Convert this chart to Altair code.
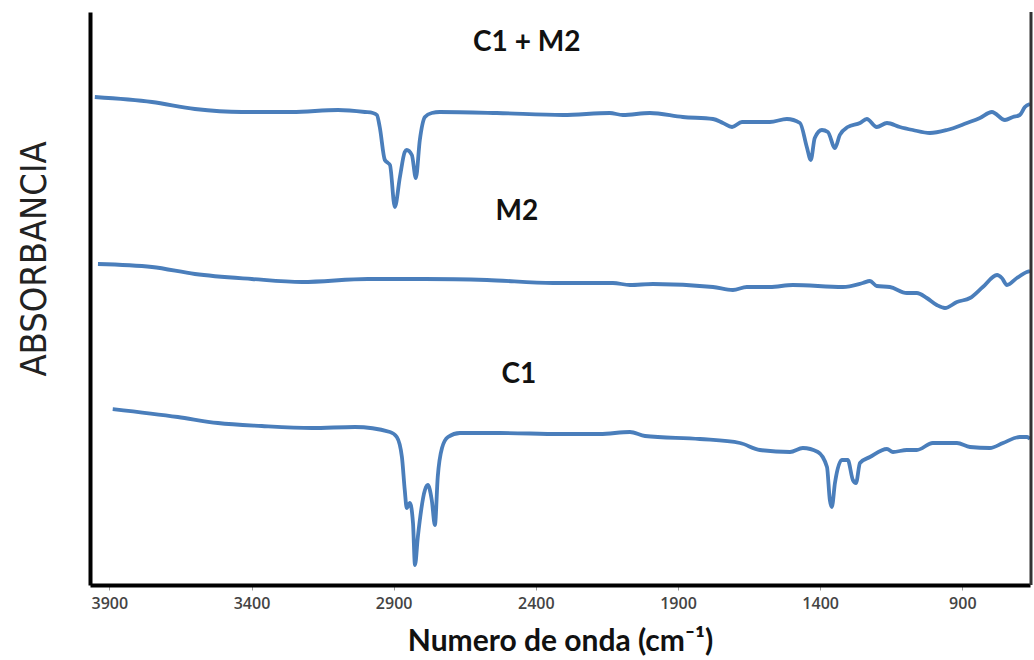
import altair as alt
import pandas as pd

# Wavenumber (cm-1) and relative absorbance
c1m2_wn = [3951, 3750, 3599, 3434, 3258, 3096, 3001, 2973, 2959, 2949, 2931, 2920, 2913,
           2896, 2878, 2861, 2854, 2836, 2822, 2808, 2790, 2766, 2738, 2537, 2305, 2140,
           2094, 1999, 1883, 1777, 1742, 1710, 1675, 1577, 1517, 1471, 1447, 1433, 1419,
           1394, 1373, 1348, 1331, 1303, 1260, 1236, 1201, 1165, 1120, 1074, 1014, 954,
           884, 838, 796, 750, 722, 698, 680, 662]
c1m2_abs = [4.88, 4.83, 4.76, 4.73, 4.73, 4.75, 4.73, 4.72, 4.70, 4.58, 4.25, 4.22, 4.20,
            3.78, 4.08, 4.33, 4.35, 4.30, 4.07, 4.45, 4.68, 4.72, 4.73, 4.72, 4.70, 4.72,
            4.70, 4.72, 4.68, 4.66, 4.62, 4.58, 4.63, 4.63, 4.66, 4.62, 4.38, 4.25, 4.47,
            4.55, 4.53, 4.37, 4.50, 4.58, 4.62, 4.66, 4.58, 4.62, 4.58, 4.55, 4.52, 4.55,
            4.62, 4.67, 4.73, 4.65, 4.68, 4.70, 4.78, 4.81]

m2_wn = [3940, 3750, 3599, 3399, 3223, 2991, 2790, 2572, 2340, 2129, 2069, 1988, 1777,
         1707, 1658, 1577, 1496, 1320, 1250, 1225, 1201, 1155, 1095, 1060, 1025, 990,
         961, 919, 873, 828, 778, 761, 743, 708, 673, 662]
m2_abs = [3.21, 3.18, 3.11, 3.06, 3.03, 3.06, 3.06, 3.05, 3.02, 3.02, 3.00, 3.01, 2.98,
          2.95, 2.98, 2.98, 3.00, 2.98, 3.02, 3.04, 2.99, 2.98, 2.92, 2.92, 2.87, 2.80,
          2.77, 2.83, 2.87, 2.98, 3.10, 3.07, 3.00, 3.07, 3.13, 3.14]

c1_wn = [3888, 3659, 3518, 3364, 3188, 3036, 2913, 2889, 2871, 2861, 2854, 2843, 2832,
         2825, 2815, 2790, 2780, 2766, 2755, 2745, 2730, 2709, 2667, 2526, 2315, 2175,
         2069, 2016, 1823, 1682, 1612, 1506, 1461, 1408, 1376, 1366, 1359, 1348, 1324,
         1303, 1285, 1274, 1260, 1225, 1165, 1144, 1095, 1060, 1004, 919, 873, 803, 757,
         698, 673, 662]
c1_abs = [1.76, 1.68, 1.62, 1.59, 1.57, 1.58, 1.53, 1.48, 1.28, 0.95, 0.77, 0.82, 0.62,
          0.20, 0.48, 0.95, 1.00, 0.85, 0.60, 1.08, 1.37, 1.48, 1.52, 1.52, 1.51, 1.51,
          1.53, 1.49, 1.46, 1.42, 1.35, 1.33, 1.37, 1.33, 1.18, 0.85, 0.78, 1.02, 1.25,
          1.25, 1.05, 1.02, 1.22, 1.28, 1.36, 1.33, 1.35, 1.35, 1.42, 1.42, 1.38, 1.37,
          1.42, 1.48, 1.48, 1.46]

label_text = ["C1 + M2", "M2", "C1"]
label_wn = [2432, 2467, 2460]
label_abs = [5.42, 3.73, 2.10]

tick_values = [3900, 3400, 2900, 2400, 1900, 1400, 900]

rows = []
for name, wn, ab in [("C1 + M2", c1m2_wn, c1m2_abs), ("M2", m2_wn, m2_abs), ("C1", c1_wn, c1_abs)]:
    for w, a in zip(wn, ab):
        rows.append({"serie": name, "wn": w, "abs": a})
df = pd.DataFrame(rows)
df_lab = pd.DataFrame({"t": label_text, "wn": label_wn, "abs": label_abs})

xscale = alt.Scale(domain=[3968, 662], nice=False, zero=False)
yscale = alt.Scale(domain=[0, 5.73], nice=False, zero=False)

lines = alt.Chart(df).mark_line(color="#4a7ebb", strokeWidth=3.8, clip=True,
                                interpolate="monotone").encode(
    x=alt.X("wn:Q", scale=xscale,
            axis=alt.Axis(values=tick_values, format="d", grid=False,
                          domainColor="black", domainWidth=4,
                          tickColor="#999999", tickSize=5, tickWidth=1,
                          labelFont="Open Sans", labelFontSize=16, labelColor="#444444",
                          labelFontWeight=600, labelPadding=5,
                          title="Numero de onda (cm⁻¹)", titleFont="Lato",
                          titleFontSize=30, titleFontWeight="bold", titleColor="#111111",
                          titlePadding=15)),
    y=alt.Y("abs:Q", scale=yscale,
            axis=alt.Axis(labels=False, ticks=False, title=None, grid=False,
                          domainColor="black", domainWidth=4)),
    detail="serie:N",
)

labels = alt.Chart(df_lab).mark_text(font="Lato", fontSize=28, fontWeight="bold",
                                     color="#111111").encode(
    x=alt.X("wn:Q", scale=xscale), y=alt.Y("abs:Q", scale=yscale), text="t:N")

ytitle = alt.Chart(pd.DataFrame({"t": ["ABSORBANCIA"]})).mark_text(
    font="DejaVu Sans Condensed", fontSize=36, color="#222222", angle=270).encode(
    text="t:N", x=alt.value(-55), y=alt.value(247))

right_border = alt.Chart(pd.DataFrame({"t": ["r"]})).mark_rule(
    color="#333333", strokeWidth=3).encode(
    x=alt.value(941), y=alt.value(0), y2=alt.value(573))

chart = alt.layer(lines, labels, ytitle, right_border).properties(
    width=940, height=573,
    autosize=alt.AutoSizeParams(type="none"),
    padding={"left": 90, "top": 12, "right": 4, "bottom": 75},
    background="white",
).configure_view(stroke=None)

chart.save("out.html", embed_options={"renderer": "svg", "actions": False})
